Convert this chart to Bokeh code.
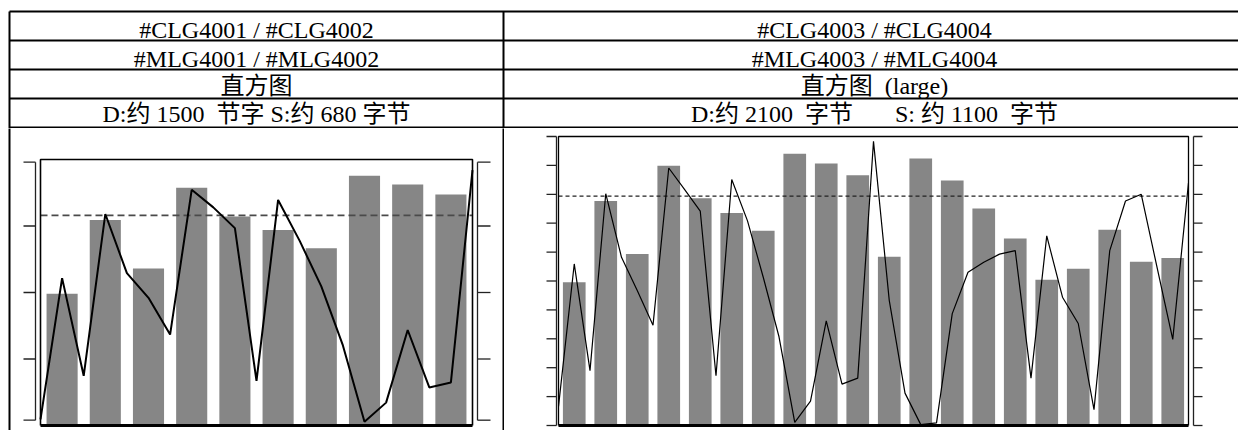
from bokeh.plotting import figure
from bokeh.models import Range1d
from bokeh.layouts import column, row
from bokeh.core.properties import value
from bokeh.embed import file_html
from bokeh.resources import INLINE

# ---------------- data ----------------
HEAD_LEFT = [
    "#CLG4001 / #CLG4002",
    "#MLG4001 / #MLG4002",
    "直方图",
    "D:约 1500\u00a0\u00a0节字 S:约 680 字节",
]
HEAD_RIGHT = [
    "#CLG4003 / #CLG4004",
    "#MLG4003 / #MLG4004",
    "直方图\u00a0\u00a0(large)",
    "D:约 2100\u00a0\u00a0字节" + "\u00a0" * 7 + "S:\u00a0约 1100\u00a0\u00a0字节",
]

LEFT_BARS = [49.5, 77.3, 59.0, 89.4, 78.6, 73.5, 66.6, 93.9, 90.6, 86.8]
LEFT_LINE = [2.3, 55.4, 18.7, 79.5, 57.3, 48.0, 34.2, 88.6, 82.0, 74.2, 16.8,
             84.8, 69.4, 52.3, 30.1, 1.4, 8.6, 35.9, 14.3, 16.2, 96.0]
LEFT_TARGET = 79.0
LEFT_TICKS = [2, 25, 50, 75, 99]

RIGHT_BARS = [49.6, 77.7, 59.3, 89.9, 78.6, 73.5, 67.4, 94.0, 90.7, 86.6,
              58.4, 92.4, 84.8, 75.1, 64.7, 50.4, 54.2, 67.7, 56.7, 58.0]
RIGHT_LINE = [6.6, 55.9, 19.0, 80.2, 58.2, 46.7, 34.7, 89.1, 81.7, 74.2, 17.2,
              85.1, 70.8, 51.3, 30.7, 1.1, 8.4, 36.2, 14.3, 16.4, 98.3,
              43.3, 11.2, 0.3, 0.9, 38.7, 53.0, 56.5, 59.3, 60.5, 16.4,
              65.6, 44.4, 35.3, 5.5, 60.5, 77.7, 80.0, 54.8, 29.8, 84.0]
RIGHT_TARGET = 79.4
RIGHT_TICKS = [0, 10, 20, 30, 40, 50, 60, 70, 80, 90, 100]

# ---------------- layout / style ----------------
W, H = 1238, 430
HEAD_BOTTOM = 128
ROW_LINES = [11, 40, 69, 98, 127]
TEXT_BASE = [29.5, 58.0, 85.5, 113.5]
TABLE_LEFT, COL_DIV = 9, 503
FONT = value("'Liberation Serif', 'Noto Sans CJK SC'")
BAR = "#868686"


def blank(p):
    p.grid.visible = False
    p.outline_line_color = None
    p.background_fill_color = "white"
    p.border_fill_color = "white"
    p.toolbar.logo = None
    return p


header = blank(figure(width=W, height=HEAD_BOTTOM,
                      x_range=Range1d(0, W), y_range=Range1d(HEAD_BOTTOM, 0),
                      min_border=0, toolbar_location=None, output_backend="svg",
                      x_axis_location=None, y_axis_location=None, tools=""))
header.segment(x0=[TABLE_LEFT] * len(ROW_LINES), x1=[W + 10] * len(ROW_LINES),
               y0=ROW_LINES, y1=ROW_LINES, line_color="black", line_width=2)
header.segment(x0=[TABLE_LEFT, COL_DIV], x1=[TABLE_LEFT, COL_DIV],
               y0=[ROW_LINES[0]] * 2, y1=[HEAD_BOTTOM + 2] * 2,
               line_color="black", line_width=2)
for r, (lt, rt) in enumerate(zip(HEAD_LEFT, HEAD_RIGHT)):
    yb = TEXT_BASE[r]
    header.text(x=[256, 874], y=[yb, yb], text=[lt, rt], text_align="center",
                text_baseline="alphabetic", text_font=FONT,
                text_font_size="24px", text_color="black")


def make_cell(px0, px1, area, xdom, ydom):
    py0, py1 = HEAD_BOTTOM, H
    l, t, r, b = area
    sx = (r - l) / (xdom[1] - xdom[0])
    sy = (b - t) / (ydom[1] - ydom[0])
    xs = xdom[0] - (l - px0) / sx
    xe = xdom[1] + (px1 - r) / sx
    ys = ydom[0] - (py1 - b) / sy
    ye = ydom[1] + (t - py0) / sy
    p = blank(figure(width=px1 - px0, height=py1 - py0,
                     x_range=Range1d(xs, xe), y_range=Range1d(ys, ye),
                     min_border=0, toolbar_location=None, output_backend="svg",
                     x_axis_location=None, y_axis_location=None, tools=""))
    X = lambda px: xs + (px - px0) / sx
    return p, X, (ys, ye)


def draw_chart(p, X, bars, line, target, ticks, lw, dash, dash_col, dash_w,
               frame_w, left_ax, right_ax):
    n = len(bars)
    p.vbar(x=[i + 0.5 for i in range(n)], top=bars, bottom=0, width=0.72,
           fill_color=BAR, line_color=None)
    p.segment(x0=[0], x1=[n], y0=[target], y1=[target], line_color=dash_col,
              line_width=dash_w, line_dash=dash)
    p.line(x=[i * 0.5 for i in range(len(line))], y=line, line_color="black",
           line_width=lw)
    # frame
    p.line(x=[0, 0, n, n], y=[0, 100, 100, 0], line_color="black",
           line_width=frame_w)
    p.segment(x0=[0], x1=[n], y0=[0], y1=[0], line_color="black", line_width=3)
    # bracket axes (line px, tick end px)
    for ax_px, tick_px in (left_ax, right_ax):
        p.segment(x0=[X(ax_px)], x1=[X(ax_px)], y0=[min(ticks)], y1=[max(ticks)],
                  line_color="#222222", line_width=1.3)
        p.segment(x0=[X(ax_px)] * len(ticks), x1=[X(tick_px)] * len(ticks),
                  y0=ticks, y1=ticks, line_color="#222222", line_width=1.3)


# left cell
lp, LX, (lys, lye) = make_cell(0, COL_DIV + 1, (40, 159, 472, 425), (0, 10), (0, 100))
lp.segment(x0=[LX(TABLE_LEFT), LX(COL_DIV)], x1=[LX(TABLE_LEFT), LX(COL_DIV)],
           y0=[lys - 5] * 2, y1=[lye + 5] * 2, line_color="black", line_width=2)
draw_chart(lp, LX, LEFT_BARS, LEFT_LINE, LEFT_TARGET, LEFT_TICKS, 2.0, "7 4",
           "#4a4a4a", 1.6, 1.6, (35, 23), (477, 490))

# right cell
rp, RX, _ = make_cell(COL_DIV + 1, W, (558, 136, 1188, 425), (0, 20), (0, 100))
draw_chart(rp, RX, RIGHT_BARS, RIGHT_LINE, RIGHT_TARGET, RIGHT_TICKS, 1.2, "4 3",
           "#222222", 1.2, 1.3, (556, 546), (1193, 1202))

layout = column(header, row(lp, rp, spacing=0), spacing=0)
open("out.html", "w").write(file_html(layout, INLINE))
